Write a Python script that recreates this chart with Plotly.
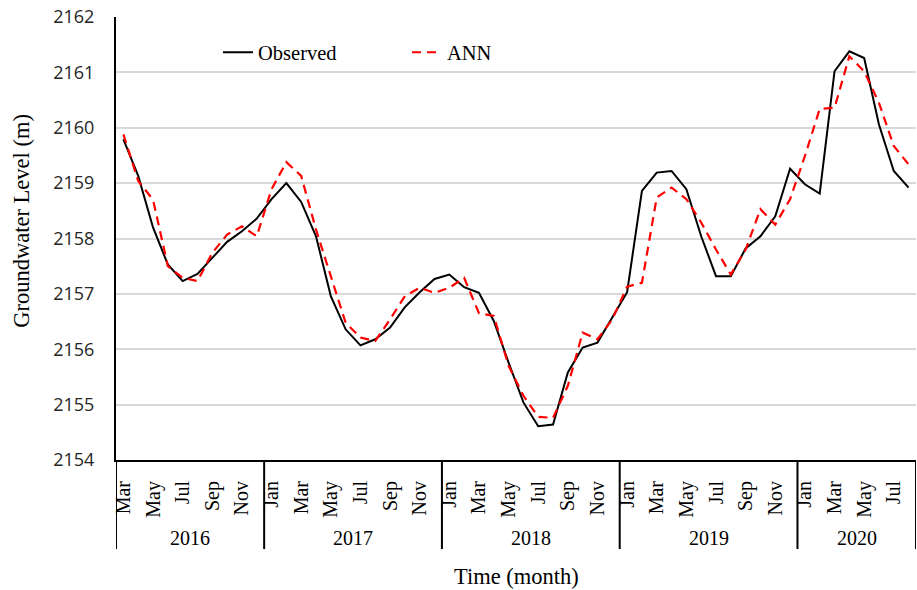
import pandas as pd
import plotly.graph_objects as go

# Monthly record, March 2016 to August 2020
periods = pd.period_range("2016-03", "2020-08", freq="M")
month_labels = [p.strftime("%b") for p in periods]
year_labels = ["2016", "2017", "2018", "2019", "2020"]

observed = [
    2159.79, 2159.13, 2158.20, 2157.53, 2157.23, 2157.36, 2157.65, 2157.94, 2158.13, 2158.36,
    2158.71, 2159.00, 2158.66, 2158.04, 2156.96, 2156.36, 2156.07, 2156.18, 2156.39, 2156.76,
    2157.03, 2157.27, 2157.35, 2157.12, 2157.02, 2156.51, 2155.76, 2155.04, 2154.61, 2154.64,
    2155.58, 2156.03, 2156.12, 2156.57, 2157.03, 2158.86, 2159.19, 2159.22, 2158.89, 2158.04,
    2157.32, 2157.32, 2157.82, 2158.04, 2158.40, 2159.26, 2158.98, 2158.81, 2161.02, 2161.38,
    2161.26, 2160.06, 2159.22, 2158.92,
]
ann = [
    2159.88, 2159.04, 2158.70, 2157.50, 2157.29, 2157.23, 2157.74, 2158.07, 2158.22, 2158.04,
    2158.89, 2159.38, 2159.13, 2158.16, 2157.32, 2156.48, 2156.21, 2156.15, 2156.54, 2156.96,
    2157.11, 2157.02, 2157.11, 2157.29, 2156.65, 2156.60, 2155.70, 2155.16, 2154.78, 2154.76,
    2155.34, 2156.30, 2156.18, 2156.54, 2157.13, 2157.20, 2158.74, 2158.92, 2158.71, 2158.29,
    2157.80, 2157.35, 2157.80, 2158.53, 2158.25, 2158.71, 2159.49, 2160.34, 2160.36, 2161.29,
    2161.02, 2160.45, 2159.67, 2159.34,
]
y_ticks = [2154, 2155, 2156, 2157, 2158, 2159, 2160, 2161, 2162]

x = list(range(len(periods)))
years = [p.year for p in periods]

SERIF = "Liberation Serif, Times New Roman, serif"

fig = go.Figure()
fig.add_trace(go.Scatter(x=x, y=observed, mode="lines", name="Observed",
                         line=dict(color="black", width=2)))
fig.add_trace(go.Scatter(x=x, y=ann, mode="lines", name="ANN",
                         line=dict(color="#ff0000", width=2.2, dash="9px,6px")))

# Year group boundaries and centred year labels under the month labels
shapes = []
annotations = []
bounds = [-0.5]
for yr in sorted(set(years)):
    idx = [i for i, v in enumerate(years) if v == yr]
    bounds.append(idx[-1] + 0.5)
    annotations.append(dict(x=(idx[0] + idx[-1]) / 2, y=-0.176, xref="x", yref="paper",
                            text=str(yr), showarrow=False, yanchor="middle",
                            font=dict(family=SERIF, size=20, color="black")))
for b in bounds:
    shapes.append(dict(type="line", xref="x", yref="paper", x0=b, x1=b, y0=0, y1=-0.201,
                       line=dict(color="black", width=2)))

annotations.append(dict(x=0.5, y=-0.264, xref="paper", yref="paper", text="Time (month)",
                        showarrow=False, yanchor="middle",
                        font=dict(family=SERIF, size=22.5, color="black")))
annotations.append(dict(x=-0.1175, y=0.54, xref="paper", yref="paper",
                        text="Groundwater Level (m)", textangle=-90, showarrow=False,
                        xanchor="center", yanchor="middle",
                        font=dict(family=SERIF, size=22.5, color="black")))

fig.update_layout(
    width=917, height=590,
    margin=dict(l=116, r=1, t=17, b=130),
    paper_bgcolor="white", plot_bgcolor="white",
    shapes=shapes, annotations=annotations,
    legend=dict(orientation="h", x=0.1275, y=0.92, xanchor="left", yanchor="middle",
                font=dict(family=SERIF, size=20.5, color="black"),
                bgcolor="rgba(0,0,0,0)", entrywidth=144),
    xaxis=dict(range=[-0.5, len(x) - 0.5], tickmode="array",
               tickvals=x[::2], ticktext=month_labels[::2], tickangle=-90,
               tickfont=dict(family=SERIF, size=20, color="black"),
               ticks="outside", ticklen=11, tickcolor="rgba(0,0,0,0)",
               showgrid=False, zeroline=False,
               showline=True, linecolor="black", linewidth=2),
    yaxis=dict(range=[2154, 2162], tickmode="array", tickvals=y_ticks,
               tickfont=dict(family="Open Sans, sans-serif", size=18, color="#262626"),
               ticks="outside", ticklen=16, tickcolor="rgba(0,0,0,0)",
               showgrid=True, gridcolor="#d9d9d9", gridwidth=1.5, zeroline=False,
               showline=True, linecolor="black", linewidth=2),
)

fig.write_html("out.html")
